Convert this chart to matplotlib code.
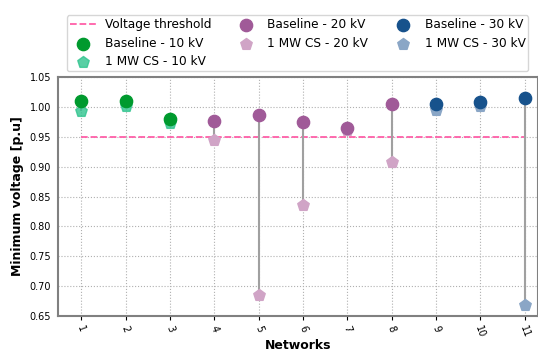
import matplotlib
matplotlib.use("Agg")
import matplotlib.pyplot as plt
import numpy as np

# networks and minimum voltages
net_10 = [1, 2, 3]
net_20 = [4, 5, 6, 7, 8]
net_30 = [9, 10, 11]
base_10 = [1.010, 1.010, 0.979]
cs_10 = [0.993, 1.001, 0.973]
base_20 = [0.977, 0.986, 0.974, 0.965, 1.004]
cs_20 = [0.944, 0.685, 0.836, 0.962, 0.908]
base_30 = [1.004, 1.008, 1.015]
cs_30 = [0.994, 1.002, 0.668]
threshold = 0.95
tick_labels = [str(i) for i in range(1, 12)]

fig = plt.figure(figsize=(5.38, 3.56), dpi=100)
ax = fig.add_axes([0.108, 0.112, 0.892, 0.672])

# lineas grises entre baseline y CS
for nets, b, c in [(net_10, base_10, cs_10), (net_20, base_20, cs_20), (net_30, base_30, cs_30)]:
    ax.vlines(nets, c, b, color='#a0a0a0', linewidth=1.5, zorder=2)

ax.hlines(threshold, 1, 11, color='#ff5fa8', linestyle='--', linewidth=1.3,
          label='Voltage threshold', zorder=1)

ax.scatter(net_10, base_10, s=78, color='#009a2e', marker='o', label='Baseline - 10 kV', zorder=3)
ax.scatter(net_10, cs_10, s=75, color='#2fc48e', alpha=0.8, marker='p', label='1 MW CS - 10 kV', zorder=2.5)
ax.scatter(net_20, base_20, s=78, color='#a05a98', marker='o', label='Baseline - 20 kV', zorder=3)
ax.scatter(net_20, cs_20, s=75, color='#d0a4c6', marker='p', label='1 MW CS - 20 kV', zorder=2.5)
ax.scatter(net_30, base_30, s=78, color='#17528c', marker='o', label='Baseline - 30 kV', zorder=3)
ax.scatter(net_30, cs_30, s=75, color='#8aa6c6', marker='p', label='1 MW CS - 30 kV', zorder=2.5)

ax.set_xlim(0.48, 11.3)
ax.set_ylim(0.65, 1.05)
ax.set_yticks(np.arange(0.65, 1.051, 0.05))
ax.set_xticks(range(1, 12))
ax.set_xticklabels(tick_labels, rotation=-70, fontsize=7)
ax.tick_params(axis='y', labelsize=7, length=0, pad=5)
ax.tick_params(axis='x', length=3, pad=3)
ax.grid(True, linestyle=':', color='#b0b0b0', linewidth=0.8)
ax.set_axisbelow(True)
for s in ax.spines.values():
    s.set_color('#808080')
    s.set_linewidth(1.5)

ax.set_xlabel('Networks', fontsize=9, fontweight='bold', labelpad=0)
ax.set_ylabel('Minimum voltage [p.u]', fontsize=9, fontweight='bold', labelpad=4)

fig.legend(loc='upper left', bbox_to_anchor=(0.124, 0.957), ncol=3, fontsize=8.7,
           frameon=True, columnspacing=1.75, handlelength=2.2, handletextpad=0.7,
           borderpad=0.25, labelspacing=0.45, borderaxespad=0)

plt.savefig('out.png', dpi=100)
